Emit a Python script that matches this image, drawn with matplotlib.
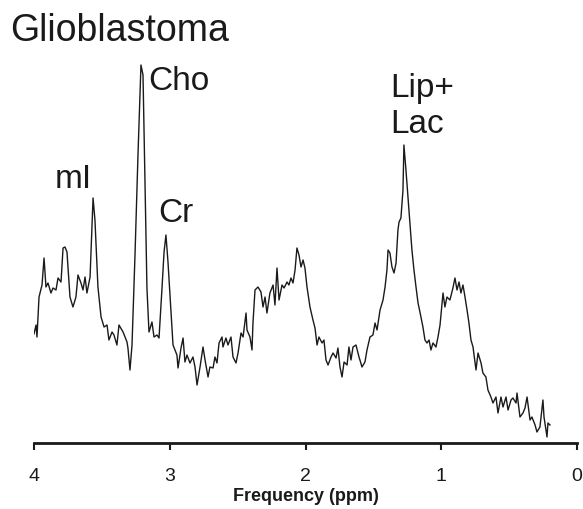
import matplotlib
matplotlib.use("Agg")
import matplotlib.pyplot as plt

plt.rcParams["font.family"] = ["Liberation Sans", "DejaVu Sans"]

# chemical shift (ppm) and signal intensity (arbitrary units)
ppm = [4.000, 3.985, 3.978, 3.963, 3.941, 3.926, 3.912, 3.897, 3.875, 3.860,
       3.838, 3.823, 3.801, 3.786, 3.772, 3.757, 3.735, 3.713, 3.691, 3.676,
       3.654, 3.639, 3.624, 3.610, 3.587, 3.565, 3.551, 3.529, 3.506, 3.484,
       3.462, 3.448, 3.425, 3.411, 3.389, 3.374, 3.344, 3.315, 3.308, 3.293,
       3.278, 3.256, 3.234, 3.212, 3.197, 3.182, 3.168, 3.153, 3.131, 3.116,
       3.094, 3.079, 3.057, 3.042, 3.028, 3.013, 2.991, 2.976, 2.947, 2.939,
       2.917, 2.902, 2.888, 2.873, 2.851, 2.829, 2.814, 2.799, 2.777, 2.755,
       2.740, 2.718, 2.704, 2.681, 2.667, 2.652, 2.637, 2.615, 2.608, 2.586,
       2.571, 2.549, 2.534, 2.512, 2.497, 2.475, 2.460, 2.438, 2.431, 2.409,
       2.394, 2.387, 2.372, 2.350, 2.328, 2.313, 2.298, 2.284, 2.262, 2.239,
       2.225, 2.210, 2.195, 2.173, 2.158, 2.136, 2.122, 2.107, 2.092, 2.077,
       2.063, 2.048, 2.033, 2.018, 2.004, 1.989, 1.967, 1.945, 1.930, 1.915,
       1.901, 1.878, 1.864, 1.849, 1.834, 1.812, 1.797, 1.775, 1.761, 1.746,
       1.731, 1.716, 1.694, 1.680, 1.665, 1.650, 1.628, 1.606, 1.599, 1.584,
       1.562, 1.547, 1.525, 1.503, 1.488, 1.473, 1.451, 1.429, 1.414, 1.400,
       1.392, 1.378, 1.363, 1.348, 1.333, 1.319, 1.311, 1.297, 1.282, 1.275,
       1.260, 1.245, 1.230, 1.216, 1.201, 1.186, 1.171, 1.157, 1.135, 1.120,
       1.105, 1.090, 1.076, 1.061, 1.039, 1.024, 1.009, 0.987, 0.973, 0.958,
       0.936, 0.914, 0.899, 0.884, 0.869, 0.855, 0.840, 0.825, 0.810, 0.796,
       0.781, 0.766, 0.744, 0.729, 0.707, 0.693, 0.671, 0.656, 0.634, 0.619,
       0.597, 0.582, 0.560, 0.545, 0.523, 0.508, 0.486, 0.472, 0.449, 0.442,
       0.420, 0.398, 0.383, 0.368, 0.346, 0.332, 0.309, 0.295, 0.273, 0.251,
       0.243, 0.221, 0.214, 0.199]
intensity = [109, 118, 106, 146, 158, 185, 156, 160, 150, 155,
             153, 165, 161, 195, 196, 191, 146, 136, 146, 168,
             160, 153, 166, 150, 166, 245, 223, 156, 126, 116,
             118, 103, 111, 108, 98, 118, 111, 101, 95, 73,
             98, 188, 288, 378, 368, 255, 155, 111, 121, 106,
             108, 105, 155, 191, 208, 181, 131, 98, 88, 75,
             95, 105, 81, 88, 80, 86, 76, 58, 76, 96,
             83, 66, 76, 75, 86, 80, 100, 106, 96, 105,
             98, 106, 86, 80, 90, 110, 106, 130, 113, 106,
             93, 120, 153, 156, 151, 136, 146, 130, 150, 158,
             138, 175, 143, 158, 155, 161, 158, 165, 160, 173,
             195, 188, 176, 183, 175, 156, 136, 123, 115, 98,
             106, 100, 103, 83, 78, 86, 90, 85, 95, 76,
             66, 81, 78, 96, 83, 96, 98, 86, 83, 76,
             81, 93, 106, 108, 120, 113, 133, 143, 156, 173,
             193, 190, 176, 170, 180, 213, 221, 225, 253, 298,
             273, 246, 220, 193, 173, 156, 140, 131, 116, 103,
             100, 103, 93, 100, 96, 106, 118, 150, 136, 146,
             143, 155, 165, 153, 161, 150, 158, 146, 133, 120,
             103, 96, 73, 90, 80, 70, 66, 53, 46, 40,
             46, 30, 46, 36, 46, 33, 43, 45, 40, 50,
             26, 30, 35, 46, 23, 26, 18, 11, 16, 43,
             26, 6, 20, 18]

xticks = [4, 3, 2, 1, 0]

# peak labels: text, ppm, intensity of the (last line) baseline
peak_labels = [("mI", 3.845, 255), ("Cho", 3.160, 353),
               ("Cr", 3.087, 221), ("Lip+\nLac", 1.378, 310)]

fig = plt.figure(figsize=(5.83, 5.09), dpi=100)
ax = fig.add_axes([34 / 583, 66 / 509, 543 / 583, 388 / 509])

ax.plot(ppm, intensity, color="#1a1a1a", lw=1.0)

ax.set_xlim(4, 0)
ax.set_ylim(0, 388)
ax.set_xticks(xticks)
ax.set_xticklabels([str(t) for t in xticks])
ax.set_yticks([])
for side in ["top", "right", "left"]:
    ax.spines[side].set_visible(False)
ax.spines["bottom"].set_linewidth(2)
ax.spines["bottom"].set_color("#1a1a1a")
ax.tick_params(axis="x", direction="out", length=5, width=1.5, pad=13,
               labelsize=14, colors="#1a1a1a")
ax.set_xlabel("Frequency (ppm)", fontsize=13, fontweight="bold", labelpad=2,
              color="#1a1a1a")

for text, x, y in peak_labels:
    ax.text(x, y, text, fontsize=24, ha="left", va="baseline",
            color="#1a1a1a", linespacing=1.2)

fig.text(10 / 583, 468 / 509, "Glioblastoma", fontsize=27, ha="left",
         va="baseline", color="#1a1a1a")

fig.savefig("out.png", dpi=100)
